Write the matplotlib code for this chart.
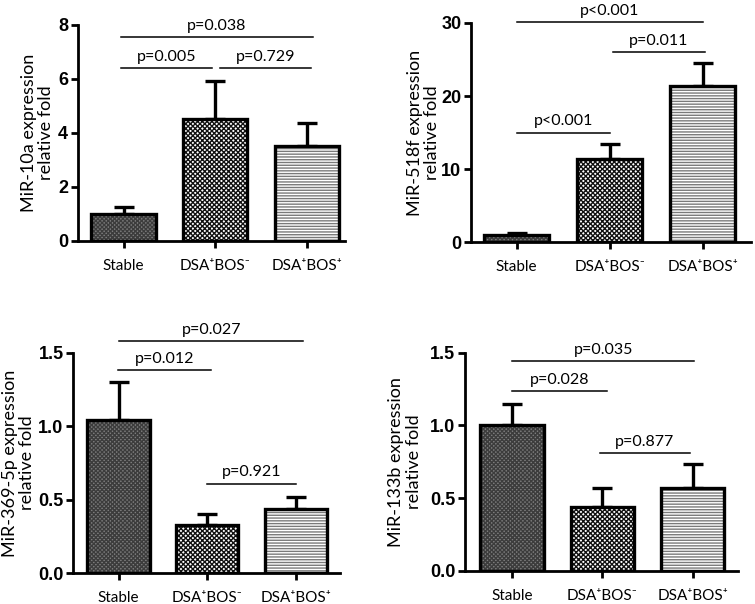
import matplotlib
matplotlib.use("Agg")
import matplotlib.pyplot as plt

plt.rcParams['font.family'] = ['Lato', 'DejaVu Sans']
plt.rcParams['hatch.linewidth'] = 1.0

groups = ['Stable', 'DSA\u207aBOS\u207b', 'DSA\u207aBOS\u207a']

# panel data: mean and upper error (SEM)
mir10a_mean = [1.0, 4.52, 3.52]
mir10a_err = [0.24, 1.41, 0.86]
mir518f_mean = [1.0, 11.4, 21.4]
mir518f_err = [0.3, 2.0, 3.1]
mir369_mean = [1.04, 0.33, 0.44]
mir369_err = [0.26, 0.07, 0.08]
mir133b_mean = [1.0, 0.44, 0.57]
mir133b_err = [0.145, 0.13, 0.165]

# comparisons: (x start, x end, line height, label)
mir10a_p = [(-0.03, 2.07, 7.55, 'p=0.038'), (-0.03, 0.97, 6.4, 'p=0.005'), (1.05, 2.05, 6.4, 'p=0.729')]
mir518f_p = [(0.0, 2.0, 30.1, 'p<0.001'), (1.03, 2.02, 26.0, 'p=0.011'), (0.0, 1.0, 15.0, 'p<0.001')]
mir369_p = [(0.01, 2.08, 1.58, 'p=0.027'), (-0.01, 1.04, 1.38, 'p=0.012'), (1.0, 2.0, 0.61, 'p=0.921')]
mir133b_p = [(0.0, 2.02, 1.44, 'p=0.035'), (0.0, 1.05, 1.235, 'p=0.028'), (0.97, 1.97, 0.81, 'p=0.877')]

faces = ['#7c7c7c', '#ffffff', '#ffffff']
hatch_cols = ['#3c3c3c', '#111111', '#7a7a7a']
hatches = ['xxxxxxxx', 'xxxxxxx', '------']

fig = plt.figure(figsize=(7.55, 6.04), dpi=100)

panels = [
    ([0.103, 0.601, 0.354, 0.358], mir10a_mean, mir10a_err, mir10a_p, 'MiR-10a expression\nrelative fold',
     (0, 8), [0, 2, 4, 6, 8], '%d', (-0.50, 2.42), -0.15),
    ([0.624, 0.599, 0.371, 0.363], mir518f_mean, mir518f_err, mir518f_p, 'MiR-518f expression\nrelative fold',
     (0, 30), [0, 10, 20, 30], '%d', (-0.49, 2.52), -0.17),
    ([0.097, 0.051, 0.353, 0.365], mir369_mean, mir369_err, mir369_p, 'MiR-369-5p expression\nrelative fold',
     (0, 1.5), [0, 0.5, 1.0, 1.5], '%.1f', (-0.51, 2.49), -0.205),
    ([0.616, 0.055, 0.361, 0.361], mir133b_mean, mir133b_err, mir133b_p, 'MiR-133b expression\nrelative fold',
     (0, 1.5), [0, 0.5, 1.0, 1.5], '%.1f', (-0.52, 2.50), -0.22),
]

x = [0, 1, 2]
for rect, means, errs, comps, ylabel, ylim, yticks, fmt, xlim, labx in panels:
    ax = fig.add_axes(rect)
    ax.errorbar(x, means, yerr=[[0, 0, 0], errs], fmt='none', ecolor='black',
                elinewidth=2.4, capsize=7, capthick=2.4, zorder=1)
    bars = ax.bar(x, means, 0.7, linewidth=0, zorder=2)
    for b, fc, hc, h in zip(bars, faces, hatch_cols, hatches):
        b.set_facecolor(fc)
        b.set_edgecolor(hc)
        b.set_hatch(h)
    ax.bar(x, means, 0.7, fill=False, edgecolor='black', linewidth=2.4, zorder=3)

    for x0, x1, yy, lab in comps:
        ax.plot([x0, x1], [yy, yy], color='black', lw=1.1, clip_on=False)
        ax.annotate(lab, ((x0 + x1) / 2, yy), xytext=(0, 3), textcoords='offset points',
                    ha='center', va='bottom', fontsize=11.5, annotation_clip=False)

    ax.set_xlim(xlim)
    ax.set_ylim(ylim)
    ax.set_yticks(yticks)
    ax.set_yticklabels([fmt % t for t in yticks], fontweight='bold', fontsize=13,
                       family=['Liberation Sans Narrow', 'Liberation Sans'])
    ax.set_xticks(x)
    ax.set_xticklabels(groups, fontsize=11)
    ax.tick_params(axis='both', direction='out', width=2, length=5, pad=2)
    ax.tick_params(axis='x', pad=8)
    for s in ['top', 'right']:
        ax.spines[s].set_visible(False)
    for s in ['left', 'bottom']:
        ax.spines[s].set_linewidth(2)
    ax.set_ylabel(ylabel, fontsize=13, linespacing=1.1, va='center')
    ax.yaxis.set_label_coords(labx, 0.5)

fig.savefig('out.png', dpi=100)
